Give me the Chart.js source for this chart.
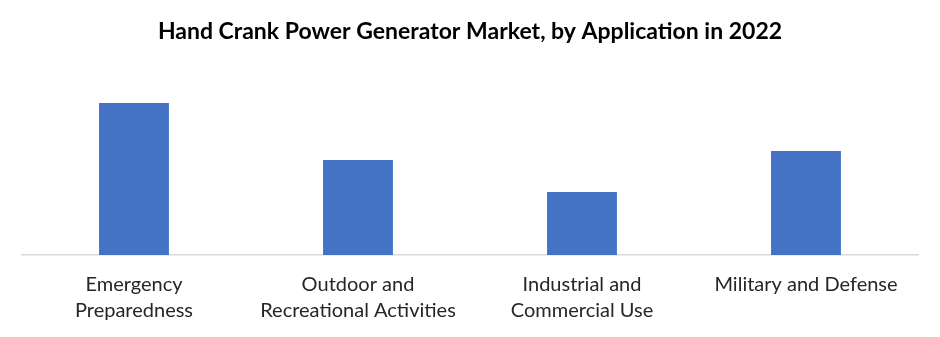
<!DOCTYPE html>
<html>
<head>
<meta charset="utf-8">
<script src="https://cdn.jsdelivr.net/npm/chart.js@4/dist/chart.umd.min.js"></script>
<style>
  html, body { margin: 0; padding: 0; background: #ffffff; }
  #wrap { width: 940px; height: 337px; }
</style>
</head>
<body>
<div id="wrap"><canvas id="c" width="940" height="337"></canvas></div>
<script>
const chartTitle = 'Hand Crank Power Generator Market, by Application in 2022';
const categories = [
  ['Emergency', 'Preparedness'],
  ['Outdoor and', 'Recreational Activities'],
  ['Industrial and', 'Commercial Use'],
  ['Military and Defense']
];
const marketShare = [38, 23.75, 15.75, 26];

new Chart(document.getElementById('c'), {
  type: 'bar',
  data: {
    labels: categories,
    datasets: [{
      data: marketShare,
      backgroundColor: '#4472C4',
      borderWidth: 0,
      barPercentage: 0.52,
      categoryPercentage: 0.6
    }]
  },
  options: {
    responsive: false,
    animation: false,
    layout: { padding: { left: 22, right: 22, top: 0, bottom: 0 } },
    plugins: {
      legend: { display: false },
      tooltip: { enabled: false },
      title: {
        display: true,
        text: chartTitle,
        color: '#000000',
        font: { family: 'Lato', size: 23, weight: 'bold', lineHeight: 1.2 },
        padding: { top: 18, bottom: 17.4 }
      }
    },
    scales: {
      x: {
        grid: { display: false, drawTicks: false },
        border: { display: true, color: '#d9d9d9', width: 1.5 },
        ticks: {
          color: '#262626',
          font: { family: 'Lato', size: 20, lineHeight: 1.3 },
          padding: 17,
          maxRotation: 0,
          autoSkip: false
        },
        // fixed band below the plot for the two-line category labels
        afterFit: (scale) => { scale.height = 82; }
      },
      y: {
        display: false,
        min: 0,
        max: 48
      }
    }
  }
});
</script>
</body>
</html>
